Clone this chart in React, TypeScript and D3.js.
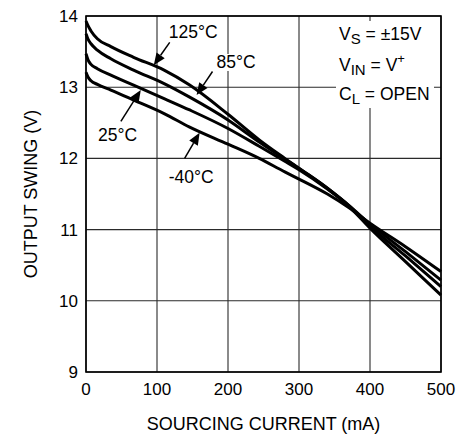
import React from "react";
import * as d3 from "d3";

const currents = [0, 3, 7, 16, 35, 67, 110, 146, 200, 244, 280, 300, 340, 370, 400, 450, 500];
const swing125 = [13.93, 13.86, 13.79, 13.68, 13.57, 13.42, 13.24, 13.03, 12.62, 12.26, 12.0, 11.86, 11.58, 11.33, 11.02, 10.55, 10.08];
const swing85 = [13.75, 13.67, 13.61, 13.52, 13.4, 13.24, 13.05, 12.86, 12.54, 12.23, 11.99, 11.86, 11.58, 11.34, 11.05, 10.63, 10.2];
const swing25 = [13.47, 13.38, 13.32, 13.26, 13.17, 13.03, 12.84, 12.68, 12.42, 12.17, 11.96, 11.84, 11.57, 11.34, 11.08, 10.69, 10.29];
const swingM40 = [13.21, 13.14, 13.09, 13.04, 12.96, 12.82, 12.63, 12.44, 12.2, 12.0, 11.81, 11.71, 11.5, 11.31, 11.09, 10.76, 10.41];

const xTicks = [0, 100, 200, 300, 400, 500];
const yTicks = [9, 10, 11, 12, 13, 14];

const labelTexts = ["125°C", "85°C", "25°C", "-40°C"];
const labelX = [116.5, 183.8, 16.8, 116.5];
const labelY = [13.69, 13.27, 12.24, 11.65];
const arrowTailX = [117.9, 178.2, 49.1, 138.9];
const arrowTailY = [13.63, 13.22, 12.52, 12.0];
const arrowTipX = [95.4, 155.8, 77.2, 160];
const arrowTipY = [13.31, 12.89, 12.96, 12.36];

const FONT = "'Liberation Sans', Arial, Helvetica, sans-serif";

export default function App() {
  const W = 470, H = 434;
  const x = d3.scaleLinear().domain([0, 500]).range([86, 441]);
  const y = d3.scaleLinear().domain([9, 14]).range([372, 16]);
  const series = [swing125, swing85, swing25, swingM40];
  const line = d3
    .line<number>()
    .x((_, i) => x(currents[i]))
    .y((d) => y(d))
    .curve(d3.curveMonotoneX);

  const labelW = [50, 40, 41, 47];

  return (
    <svg width={W} height={H} style={{ position: "absolute", left: 0, top: 0, background: "#fff" }} fontFamily={FONT}>
      <rect x={0} y={0} width={W} height={H} fill="#fff" />
      {xTicks.map((t) => (
        <line key={"gx" + t} x1={x(t)} x2={x(t)} y1={y(14)} y2={y(9)} stroke="#2a2a2a" strokeWidth={1.1} />
      ))}
      {yTicks.map((t) => (
        <line key={"gy" + t} x1={x(0)} x2={x(500)} y1={y(t)} y2={y(t)} stroke="#2a2a2a" strokeWidth={1.1} />
      ))}
      <rect x={336} y={21} width={98} height={87} fill="#fff" />
      {series.map((s, i) => (
        <path key={"s" + i} d={line(s) || ""} fill="none" stroke="#000" strokeWidth={3} strokeLinejoin="round" />
      ))}
      <rect x={x(0)} y={y(14)} width={x(500) - x(0)} height={y(9) - y(14)} fill="none" stroke="#000" strokeWidth={1.6} />
      {labelTexts.map((t, i) => (
        <g key={"l" + i}>
          <rect x={x(labelX[i]) - 1} y={y(labelY[i]) - 14} width={labelW[i]} height={17} fill="#fff" />
          <text x={x(labelX[i])} y={y(labelY[i])} fontSize={17.5} fill="#000">
            {t}
          </text>
        </g>
      ))}
      {labelTexts.map((t, i) => {
        const x0 = x(arrowTailX[i]), y0 = y(arrowTailY[i]);
        const x1 = x(arrowTipX[i]), y1 = y(arrowTipY[i]);
        const dx = x1 - x0, dy = y1 - y0;
        const len = Math.hypot(dx, dy);
        const ux = dx / len, uy = dy / len;
        const hl = 12, hw = 5;
        const bx = x1 - ux * hl, by = y1 - uy * hl;
        const pts = [
          [x1, y1],
          [bx - uy * hw, by + ux * hw],
          [bx + uy * hw, by - ux * hw],
        ];
        return (
          <g key={"a" + i}>
            <line x1={x0} y1={y0} x2={bx} y2={by} stroke="#000" strokeWidth={1.5} />
            <polygon points={pts.map((p) => p.join(",")).join(" ")} fill="#000" />
          </g>
        );
      })}
      <g fontSize={17.5} fill="#000">
        <text x={339} y={40}>
          V<tspan fontSize={15} dy={4}>S</tspan>
          <tspan dy={-4}> = ±15V</tspan>
        </text>
        <text x={339} y={71}>
          V<tspan fontSize={15} dy={4}>IN</tspan>
          <tspan dy={-4}> = V</tspan>
          <tspan fontSize={13} dy={-8}>+</tspan>
        </text>
        <text x={339} y={100}>
          C<tspan fontSize={15} dy={4}>L</tspan>
          <tspan dy={-4}> = OPEN</tspan>
        </text>
      </g>
      {yTicks.map((t) => (
        <text key={"ty" + t} x={78} y={y(t)} dy="0.35em" textAnchor="end" fontSize={17} fill="#000">
          {t}
        </text>
      ))}
      {xTicks.map((t) => (
        <text key={"tx" + t} x={x(t)} y={395} textAnchor="middle" fontSize={17} fill="#000">
          {t}
        </text>
      ))}
      <text x={(x(0) + x(500)) / 2} y={430} textAnchor="middle" fontSize={18} fill="#000">
        SOURCING CURRENT (mA)
      </text>
      <text
        transform={`translate(37,${(y(9) + y(14)) / 2}) rotate(-90)`}
        textAnchor="middle"
        fontSize={18}
        fill="#000"
      >
        OUTPUT SWING (V)
      </text>
    </svg>
  );
}
